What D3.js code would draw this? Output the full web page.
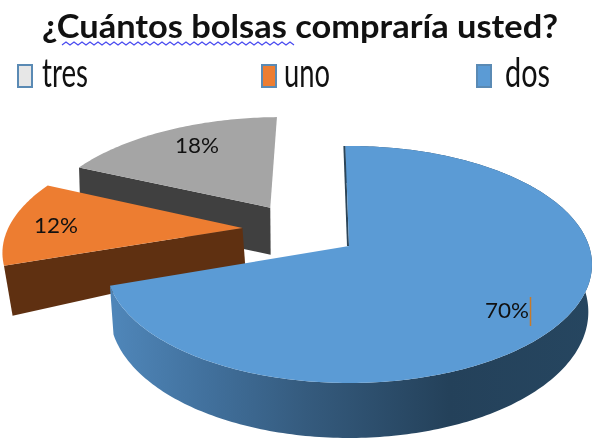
<!DOCTYPE html>
<html>
<head>
<meta charset="utf-8">
<script src="https://cdn.jsdelivr.net/npm/d3@7"></script>
<style>
  html, body { margin: 0; padding: 0; background: #fff; }
  svg { display: block; filter: blur(0.7px); }
  text { font-family: Lato, "Open Sans", sans-serif; fill: #111; }
</style>
</head>
<body>
<svg id="chart" width="595" height="439"></svg>
<script>
const categories = ["dos", "uno", "tres"]
const values = [70, 12, 18]
const legendOrder = ["tres", "uno", "dos"]

const width = 595, height = 439

// Homography from the unit disk to the screen, gives the tilted look
const origin = { x: 349, y: 246 }
const scaleU = 240, scaleV = 115.6, tilt = 0.156

// Per slice styling and explode offset, in disk units
const style = {
  dos:  { top: "#5b9bd5", wall: "url(#blueWall)", dx: 0, dy: 0, d0: 46, d1: 9, shrink: 0.985, label: [507, 318] },
  uno:  { top: "#ed7d31", wall: "#5f3011", dx: -0.455, dy: -0.16, d0: 43, d1: 43, shrink: 0.975, label: [56, 233] },
  tres: { top: "#a5a5a5", wall: "#404040", dx: -0.346, dy: -0.35, d0: 47, d1: 0, shrink: 0.995, label: [197, 153] }
}

const svg = d3.select("#chart").attr("viewBox", [0, 0, width, height])

const grad = svg.append("defs").append("linearGradient")
  .attr("id", "blueWall")
  .attr("gradientUnits", "userSpaceOnUse")
  .attr("x1", 113).attr("x2", 593).attr("y1", 0).attr("y2", 0)
grad.selectAll("stop")
  .data([[0, "#4f86b9"], [0.2, "#41709c"], [0.4, "#355b7e"], [0.7, "#24415a"], [1, "#264660"]])
  .join("stop")
  .attr("offset", d => d[0])
  .attr("stop-color", d => d[1])

const pie = d3.pie()
  .sort(null)
  .value(d => d.value)
  .startAngle(-1 * Math.PI / 180)
  .endAngle(2 * Math.PI - Math.PI / 180)

const slices = pie(categories.map((c, i) => ({ name: c, value: values[i] })))

function project(u, v) {
  const w = 1 - tilt * v
  return [origin.x + scaleU * u / w, origin.y + scaleV * v / w]
}

function topPoint(a, r, s) {
  return project(s.dx + r * Math.sin(a), s.dy - r * Math.cos(a))
}

function lowPoint(a, r, s) {
  const v = s.dy - r * Math.cos(a)
  const p = topPoint(a, r, s)
  return [origin.x + (p[0] - origin.x) * s.shrink, p[1] + s.d0 + s.d1 * v]
}

const line = d3.line()

function arcAngles(d) {
  const n = Math.ceil((d.endAngle - d.startAngle) * 60)
  return d3.range(n + 1).map(i => d.startAngle + (d.endAngle - d.startAngle) * i / n)
}

// Paint back to front so the big slice overlaps the two pulled out ones
const order = ["tres", "uno", "dos"]
const pieG = svg.append("g")

order.forEach(name => {
  const d = slices.find(x => x.data.name === name)
  const s = style[name]
  const angles = arcAngles(d)
  const g = pieG.append("g").attr("class", "slice-" + name)

  if (name === "dos") {
    // outer wall, only the big slice shows one
    g.append("path")
      .attr("d", line(angles.map(a => topPoint(a, 1, s)).concat(angles.slice().reverse().map(a => lowPoint(a, 1, s)))) + "Z")
      .attr("fill", s.wall)

    // thin dark sliver on the start edge
    const a0 = topPoint(d.startAngle, 1, s), a1 = topPoint(d.startAngle, 0, s)
    g.append("path")
      .attr("d", line([[a0[0] - 1, a0[1]], [a1[0] - 1, a1[1]]]))
      .attr("stroke", "#2c4558").attr("stroke-width", 2).attr("fill", "none")
  } else {
    // radial wall along the start edge, faces the viewer on the pulled out slices
    const edge = d.startAngle
    g.append("path")
      .attr("d", line([topPoint(edge, 0, s), topPoint(edge, 1, s), lowPoint(edge, 1, s), lowPoint(edge, 0, s)]) + "Z")
      .attr("fill", s.wall)
  }

  // top face
  g.append("path")
    .attr("d", line([topPoint(0, 0, s)].concat(angles.map(a => topPoint(a, 1, s)))) + "Z")
    .attr("fill", s.top)

  g.append("text")
    .attr("x", s.label[0]).attr("y", s.label[1])
    .attr("text-anchor", "middle")
    .attr("font-size", 22)
    .attr("textLength", 44).attr("lengthAdjust", "spacingAndGlyphs")
    .text(d3.format(".0f")(d.value / d3.sum(values) * 100) + "%")
})

// text cursor that was left in the 70% label
svg.append("line")
  .attr("x1", 530.5).attr("x2", 530.5)
  .attr("y1", 297).attr("y2", 326)
  .attr("stroke", "#c87a28").attr("stroke-width", 1.5)

// Title
svg.append("text")
  .attr("x", 300).attr("y", 38)
  .attr("text-anchor", "middle")
  .attr("font-size", 33).attr("font-weight", 700)
  .attr("textLength", 516).attr("lengthAdjust", "spacingAndGlyphs")
  .text("¿Cuántos bolsas compraría usted?")

// spell check squiggle under the first two words
const squiggle = d3.range(0, 59).map(i => [62 + i * 4, i % 2 ? 42 : 45])
svg.append("path")
  .attr("d", line(squiggle))
  .attr("fill", "none").attr("stroke", "#4a4cf0").attr("stroke-width", 1.2)

// Legend
const legendX = d3.scaleOrdinal().domain(legendOrder).range([18, 262, 477])
const legendFill = { tres: "#e7e7e7", uno: "#ed7d31", dos: "#5b9bd5" }
const legendLabel = { tres: [42, 46], uno: [284, 46], dos: [505, 45] }

const legend = svg.append("g").selectAll("g")
  .data(legendOrder)
  .join("g")

legend.append("rect")
  .attr("x", d => legendX(d))
  .attr("y", 65).attr("width", 14).attr("height", 22)
  .attr("fill", d => legendFill[d])
  .attr("stroke", "#5a8ab4").attr("stroke-width", 2)

legend.append("text")
  .attr("x", d => legendLabel[d][0])
  .attr("y", 87)
  .attr("font-size", 40)
  .attr("textLength", d => legendLabel[d][1])
  .attr("lengthAdjust", "spacingAndGlyphs")
  .text(d => d)
</script>
</body>
</html>
